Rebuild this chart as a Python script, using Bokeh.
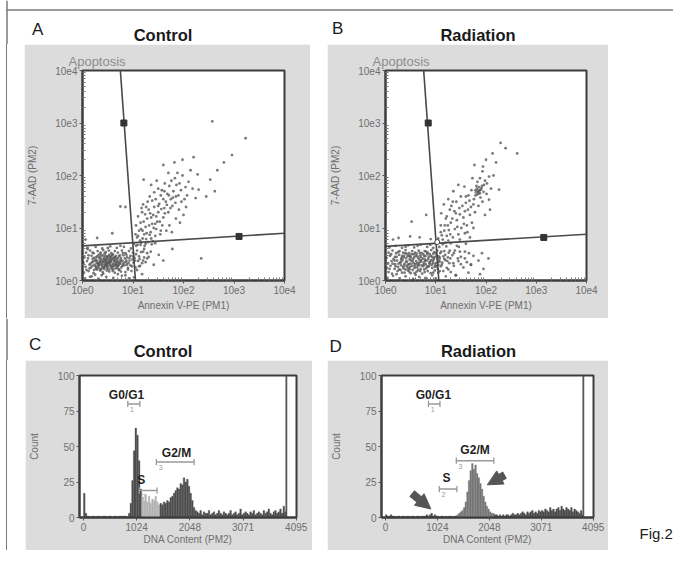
from bokeh.plotting import figure
from bokeh.layouts import column, row
from bokeh.models import (Range1d, FixedTicker, CustomJSTickFormatter, Arrow,
                          NormalHead, ColumnDataSource, Spacer)
from bokeh.core.properties import value
from bokeh.embed import file_html
from bokeh.resources import INLINE

FONT = "Liberation Sans"
GRAY = "#dcdcdc"
FRAME = "#3c3c3c"
TXT = "#6e6e6e"
RULE = "#7a7a7a"

# ---------------- DATA ----------------
# Scatter events, stored as (log10 Annexin V-PE, log10 7-AAD)
a_events = [
    (0.05,0.04),(0.18,0.08),(0.32,0.03),(0.47,0.07),(0.61,0.05),(0.78,0.09),(0.92,0.04),(1.02,0.06),(0.25,0.11),(0.70,0.12),
    (0.03,0.15),(0.12,0.18),(0.22,0.14),(0.35,0.19),(0.41,0.13),(0.53,0.17),(0.64,0.15),(0.72,0.20),(0.85,0.16),(0.97,0.18),(0.29,0.21),(0.58,0.22),(1.08,0.20),
    (0.06,0.26),(0.14,0.23),(0.20,0.28),(0.27,0.25),(0.33,0.29),(0.38,0.23),(0.44,0.27),(0.49,0.24),(0.55,0.29),(0.60,0.26),(0.66,0.23),(0.71,0.28),(0.77,0.25),(0.83,0.29),(0.90,0.24),(0.98,0.27),(1.05,0.25),(0.24,0.30),(0.46,0.31),(0.68,0.31),
    (0.02,0.34),(0.09,0.37),(0.16,0.32),(0.21,0.36),(0.26,0.39),(0.31,0.33),(0.35,0.37),(0.39,0.31),(0.42,0.35),(0.45,0.39),(0.48,0.33),(0.51,0.37),(0.54,0.32),(0.57,0.36),(0.62,0.39),(0.65,0.34),(0.69,0.37),(0.74,0.33),(0.79,0.38),(0.86,0.35),(0.93,0.38),(1.01,0.34),(1.10,0.37),(1.18,0.33),(0.37,0.40),(0.58,0.41),(0.28,0.34),(0.44,0.30),
    (0.04,0.44),(0.11,0.42),(0.18,0.47),(0.23,0.43),(0.29,0.46),(0.34,0.42),(0.40,0.48),(0.43,0.44),(0.47,0.41),(0.50,0.46),(0.55,0.43),(0.59,0.48),(0.63,0.44),(0.67,0.41),(0.72,0.46),(0.76,0.43),(0.81,0.48),(0.88,0.44),(0.95,0.47),(1.03,0.43),(1.12,0.46),(1.22,0.44),(0.32,0.49),(0.53,0.49),
    (0.07,0.53),(0.15,0.57),(0.22,0.52),(0.30,0.56),(0.36,0.53),(0.41,0.58),(0.46,0.54),(0.52,0.57),(0.57,0.52),(0.64,0.56),(0.70,0.53),(0.78,0.57),(0.85,0.52),(0.92,0.56),(1.00,0.53),(1.08,0.57),(1.16,0.54),(1.28,0.52),
    (0.10,0.62),(0.26,0.64),(0.39,0.61),(0.55,0.65),(0.68,0.62),(0.82,0.64),(0.96,0.61),(1.06,0.66),(1.15,0.68),(1.25,0.70),
    (0.27,0.22),(0.31,0.27),(0.36,0.21),(0.40,0.26),(0.43,0.22),(0.47,0.28),(0.52,0.21),(0.56,0.25),(0.61,0.21),(0.64,0.28),(0.69,0.24),(0.73,0.21),(0.30,0.31),(0.34,0.35),(0.38,0.29),(0.41,0.38),(0.46,0.35),(0.49,0.30),(0.53,0.35),(0.56,0.39),
    (0.60,0.32),(0.63,0.37),(0.67,0.30),(0.71,0.35),(0.75,0.39),(0.33,0.44),(0.37,0.46),(0.42,0.41),(0.48,0.45),(0.52,0.40),(0.57,0.45),(0.61,0.42),(0.66,0.47),(0.70,0.42),(0.25,0.38),(0.20,0.41),(0.80,0.31),(0.84,0.42),(0.88,0.30),(0.45,0.48),
    (0.08,0.20),(0.14,0.30),(0.19,0.35),(0.17,0.25),(0.23,0.20),(0.26,0.27),(0.32,0.24),(0.29,0.38),(0.34,0.32),(0.39,0.35),(0.43,0.25),(0.46,0.38),(0.50,0.27),(0.51,0.33),(0.55,0.36),(0.58,0.28),(0.62,0.30),(0.66,0.36),(0.69,0.27),(0.73,0.31),
    (0.76,0.36),(0.79,0.28),(0.82,0.34),(0.87,0.38),(0.91,0.33),(0.95,0.29),(0.99,0.40),(1.04,0.38),(1.13,0.41),(1.20,0.38),(0.12,0.48),(0.20,0.53),(0.27,0.44),(0.35,0.50),(0.44,0.52),(0.49,0.43),(0.54,0.46),(0.60,0.50),(0.65,0.44),(0.74,0.48),
    (0.80,0.52),(0.87,0.49),(0.93,0.43),(1.00,0.46),(1.06,0.50),(0.40,0.16),(0.48,0.19),(0.60,0.18),(0.76,0.17),(0.90,0.21),(1.14,0.28),(1.25,0.35),(1.31,0.45),(1.20,0.55),(0.15,0.07),(0.38,0.10),(0.85,0.10),(0.10,0.60),(0.50,0.62),(0.75,0.66),
    (1.08,0.82),(1.12,0.95),(1.15,1.10),(1.10,1.22),(1.18,1.30),(1.22,0.88),(1.25,1.02),(1.28,1.18),(1.31,1.35),(1.20,1.45),(1.35,0.92),(1.38,1.08),(1.40,1.25),(1.42,1.40),(1.45,1.55),(1.33,1.60),(1.48,1.12),(1.50,1.30),(1.52,1.46),(1.55,1.62),
    (1.14,0.76),(1.26,0.79),(1.36,0.80),(1.44,0.85),(1.17,1.38),(1.29,1.50),(1.38,1.52),(1.06,1.05),(1.24,1.26),(1.46,0.98),(1.58,1.05),(1.60,1.20),(1.62,1.38),(1.65,1.50),(1.57,1.72),(1.68,1.65),(1.70,1.30),(1.72,1.80),(1.75,1.55),(1.78,1.42),
    (1.63,1.85),(1.80,1.70),(1.83,1.95),(1.85,1.60),(1.88,2.05),(1.92,1.85),(1.95,1.72),(1.98,2.00),(2.02,1.55),(2.07,1.62),(2.10,1.88),(2.14,2.10),(2.18,1.75),(2.24,1.57),(2.30,1.73),(2.28,2.02),(1.60,2.20),(1.91,1.35),(2.00,1.25),(1.85,1.18),
    (1.72,1.05),(1.66,0.95),(1.54,0.88),(1.77,0.92),(1.93,1.10),(2.05,1.40),(1.50,1.75),(1.42,1.68),(1.36,1.82),(1.47,1.90),(1.70,2.05),(1.82,2.25),(1.98,2.30),(2.20,2.35),
    (1.10,0.85),(1.16,0.98),(1.21,1.12),(1.27,0.90),(1.32,1.05),(1.36,1.20),(1.41,1.00),(1.46,1.22),(1.50,1.42),(1.53,1.12),(1.56,1.36),(1.60,1.55),(1.63,1.28),(1.67,1.44),(1.71,1.62),(1.74,1.38),(1.79,1.58),(1.84,1.48),(1.90,1.62),(1.96,1.50),
    (1.26,1.40),(1.34,1.28),(1.44,1.08),(1.19,0.80),(1.39,0.75),(1.55,0.95),(1.62,1.70),(1.76,1.90),(1.86,1.82),(2.04,1.78),
    (1.02,0.70),(1.09,0.68),(1.16,0.72),(1.23,0.66),(1.30,0.73),(1.37,0.69),(1.44,0.71),(1.05,0.88),(1.19,0.95),(1.33,0.87),
    (2.53,1.92),(2.67,2.10),(2.80,2.25),(2.96,2.39),(3.23,2.71),(2.57,3.03),(2.45,1.60),(2.62,1.70),
    (0.75,1.41),(0.85,1.40),(0.59,0.90),(0.29,0.81),(0.06,0.78),(1.21,1.92),
    (1.78,0.60),(1.51,0.49),(1.41,0.30),(1.12,0.27),(1.28,0.42),(1.35,0.55),(1.22,0.60),(1.60,0.38),(1.18,0.12),(2.35,0.42),
]

b_events = [
    (0.04,0.05),(0.15,0.09),(0.28,0.04),(0.40,0.08),(0.55,0.03),(0.67,0.07),(0.80,0.05),(0.93,0.10),(1.00,0.04),(0.22,0.12),(0.60,0.11),(1.20,0.08),(1.40,0.10),
    (0.06,0.16),(0.13,0.13),(0.24,0.18),(0.33,0.15),(0.45,0.19),(0.50,0.14),(0.62,0.17),(0.73,0.13),(0.84,0.18),(0.90,0.14),(0.98,0.19),(1.05,0.15),(1.15,0.18),(1.30,0.16),
    (0.03,0.24),(0.10,0.28),(0.18,0.22),(0.25,0.26),(0.31,0.29),(0.36,0.23),(0.42,0.27),(0.48,0.22),(0.53,0.28),(0.58,0.24),(0.64,0.29),(0.70,0.22),(0.75,0.27),(0.81,0.23),(0.87,0.28),(0.93,0.24),(0.99,0.29),(1.04,0.22),(1.10,0.27),(1.22,0.24),(1.36,0.28),(1.55,0.25),(1.70,0.30),
    (0.05,0.33),(0.12,0.37),(0.19,0.31),(0.23,0.38),(0.29,0.34),(0.34,0.39),(0.38,0.32),(0.43,0.36),(0.47,0.31),(0.51,0.38),(0.56,0.33),(0.61,0.37),(0.66,0.32),(0.71,0.39),(0.76,0.34),(0.82,0.38),(0.88,0.32),(0.94,0.37),(1.00,0.33),(1.06,0.38),(1.13,0.34),(1.19,0.39),(1.27,0.33),(1.45,0.37),(1.62,0.35),(1.85,0.38),
    (0.02,0.43),(0.09,0.47),(0.16,0.41),(0.22,0.45),(0.27,0.49),(0.32,0.43),(0.37,0.47),(0.41,0.42),(0.46,0.48),(0.50,0.44),(0.55,0.41),(0.60,0.47),(0.65,0.43),(0.69,0.48),(0.74,0.42),(0.79,0.46),(0.85,0.41),(0.90,0.47),(0.96,0.43),(1.02,0.48),(1.08,0.42),(1.15,0.46),(1.24,0.44),(1.33,0.48),(1.50,0.45),(1.75,0.47),
    (0.06,0.53),(0.14,0.57),(0.21,0.52),(0.28,0.56),(0.35,0.53),(0.40,0.58),(0.47,0.52),(0.53,0.56),(0.59,0.53),(0.66,0.57),(0.72,0.52),(0.78,0.56),(0.84,0.53),(0.91,0.58),(0.97,0.54),(1.03,0.57),(1.09,0.52),(1.17,0.56),(1.26,0.53),(1.38,0.57),(1.58,0.55),(1.92,0.52),
    (0.08,0.63),(0.20,0.66),(0.33,0.62),(0.45,0.67),(0.57,0.63),(0.70,0.68),(0.83,0.64),(0.95,0.62),(1.01,0.70),(1.07,0.64),(1.14,0.69),(1.21,0.65),(1.30,0.71),(1.42,0.66),(1.60,0.70),(1.25,0.76),
    (0.30,0.20),(0.35,0.26),(0.40,0.21),(0.44,0.30),(0.49,0.26),(0.54,0.20),(0.59,0.31),(0.63,0.25),(0.68,0.35),(0.72,0.29),(0.77,0.21),(0.80,0.31),(0.85,0.26),(0.89,0.36),(0.92,0.30),(0.96,0.40),(1.01,0.27),(1.04,0.35),(1.07,0.45),(0.86,0.45),
    (0.83,0.50),(0.78,0.40),(0.75,0.50),(0.67,0.40),(0.62,0.51),(0.57,0.44),(0.52,0.50),(0.48,0.40),(0.44,0.46),(0.39,0.52),(0.36,0.44),(0.31,0.40),(0.26,0.32),(0.95,0.51),(0.99,0.45),(1.05,0.30),(0.70,0.45),(0.65,0.20),
    (0.08,0.22),(0.14,0.32),(0.18,0.38),(0.20,0.27),(0.27,0.21),(0.31,0.35),(0.37,0.29),(0.41,0.36),(0.45,0.24),(0.50,0.32),(0.54,0.37),(0.58,0.27),(0.63,0.33),(0.67,0.29),(0.71,0.36),(0.76,0.30),(0.79,0.37),(0.83,0.27),(0.87,0.34),(0.91,0.39),
    (0.95,0.33),(0.98,0.26),(1.03,0.41),(1.08,0.36),(1.12,0.30),(1.17,0.41),(1.23,0.37),(1.29,0.42),(1.35,0.33),(1.44,0.42),(0.11,0.50),(0.19,0.45),(0.25,0.54),(0.33,0.47),(0.42,0.51),(0.49,0.46),(0.56,0.50),(0.63,0.46),(0.68,0.53),(0.77,0.47),
    (0.81,0.55),(0.88,0.50),(0.93,0.45),(1.00,0.52),(1.05,0.46),(1.11,0.55),(1.19,0.49),(1.28,0.57),(1.36,0.52),(1.48,0.55),(0.38,0.15),(0.47,0.17),(0.58,0.14),(0.69,0.18),(0.78,0.16),(0.95,0.15),(1.08,0.18),(1.25,0.21),(1.50,0.31),(1.58,0.42),
    (1.66,0.52),(1.46,0.64),(0.40,0.64),(0.64,0.66),(0.89,0.68),(1.19,0.72),
    (1.05,0.80),(1.10,0.92),(1.14,0.78),(1.18,1.05),(1.22,0.85),(1.26,0.96),(1.30,1.10),(1.11,1.28),(1.20,1.18),(1.34,0.82),(1.38,0.98),(1.42,1.15),(1.34,1.50),(1.47,1.38),(1.51,1.00),(1.45,0.88),(1.55,1.20),(1.58,1.32),(1.62,1.05),(1.28,1.35),
    (1.40,1.28),(1.50,1.60),(1.57,1.79),(1.60,1.48),(1.65,1.62),(1.68,1.25),(1.73,1.95),(1.70,1.40),(1.76,1.55),(1.80,1.68),(1.82,1.75),(1.84,1.70),(1.86,1.78),(1.88,1.66),(1.90,1.73),(1.87,1.72),(1.83,1.64),(1.92,1.80),(1.95,1.69),(1.81,1.80),
    (1.93,1.50),(2.06,1.54),(2.26,1.73),(1.93,2.08),(2.06,1.98),(1.98,1.90),(2.02,1.85),(2.10,1.75),(2.15,2.00),(1.77,2.20),(1.94,2.17),(2.13,2.42),(2.29,2.62),(2.39,2.52),(2.62,2.42),(1.72,1.10),(1.78,1.30),(1.85,1.42),(1.63,0.92),(1.48,0.78),
    (1.68,0.82),(1.98,1.25),(2.08,1.35),(1.35,1.70),(1.45,1.82),(1.25,1.55),(1.16,1.45),(2.00,2.30),(2.20,2.25),(1.88,1.95),
    (1.12,0.86),(1.17,0.95),(1.24,1.05),(1.29,0.88),(1.33,1.18),(1.37,1.32),(1.43,1.02),(1.48,1.26),(1.53,1.42),(1.56,1.08),(1.60,1.60),(1.64,1.35),(1.67,1.52),(1.71,1.72),(1.75,1.45),(1.79,1.62),(1.83,1.88),(1.89,1.58),(1.96,1.82),(2.01,1.65),
    (1.79,1.72),(1.85,1.66),(1.91,1.76),(1.86,1.70),(1.22,1.22),(1.31,1.42),(1.41,1.50),(1.10,1.05),(1.58,0.90),(1.75,1.00),
    (0.81,1.25),(0.52,1.12),(0.26,0.81),(0.49,0.84),(0.68,0.82),(0.15,0.78),(0.90,0.79),
    (1.70,0.30),(1.40,0.10),(1.65,0.15),(1.95,0.22),(2.05,0.42),(1.88,0.12),
]

# Quadrant gates (intensity units): vertical, horizontal, handle points
a_gate_v = ([5.62, 11.2], [10000, 1])
a_gate_h = ([1, 10000], [4.57, 7.94])
a_handles = ([6.6, 1259], [1000, 6.9])
b_gate_v = ([5.75, 11.5], [10000, 1])
b_gate_h = ([1, 10000], [4.47, 7.59])
b_handles = ([7.08, 1413], [1000, 6.61])
b_cross = ([10.7], [5.4])

log_ticks = [1, 10, 100, 1000, 10000]

# DNA content histograms, bin width 32 channels (128 bins, 0-4095)
BIN = 32
c_counts = [
    17, 3, 1, 1, 0, 1, 1, 0,
    1, 1, 0, 1, 1, 1, 0, 1,
    1, 0, 1, 1, 0, 1, 1, 1,
    1, 1, 0, 3, 10, 26, 47, 63,
    58, 40, 20, 14, 12, 16, 11, 15,
    10, 13, 12, 15, 11, 9, 10, 9,
    11, 10, 12, 11, 14, 15, 17, 19,
    21, 20, 24, 23, 28, 25, 27, 22,
    17, 12, 7, 5, 4, 3, 5, 2,
    4, 3, 3, 5, 2, 3, 4, 2,
    3, 5, 3, 2, 4, 3, 2, 3,
    5, 2, 3, 4, 2, 3, 6, 2,
    3, 4, 3, 2, 4, 3, 5, 2,
    3, 4, 3, 2, 5, 3, 4, 6,
    3, 2, 4, 5, 3, 4, 6, 3,
    8, 4, 0, 0, 0, 0, 0, 0,
]
d_counts = [
    2, 1, 1, 2, 1, 1, 0, 1,
    1, 0, 1, 1, 0, 1, 1, 0,
    1, 1, 0, 1, 1, 0, 1, 1,
    1, 2, 1, 2, 3, 1, 2, 1,
    1, 0, 1, 1, 0, 1, 0, 1,
    1, 0, 1, 1, 2, 3, 4, 5,
    7, 11, 18, 26, 33, 38, 34, 37,
    31, 28, 24, 20, 15, 11, 8, 6,
    4, 3, 3, 2, 2, 1, 2, 1,
    2, 1, 2, 2, 1, 2, 3, 2,
    2, 3, 2, 3, 4, 3, 2, 4,
    3, 4, 5, 3, 4, 3, 5, 4,
    5, 4, 6, 5, 4, 7, 5, 6,
    4, 6, 7, 5, 8, 6, 5, 7,
    6, 5, 7, 4, 6, 5, 4, 3,
    5, 2, 0, 0, 0, 0, 0, 0,
]
c_light_bins = range(35, 46)      # S-phase fill
d_peak_bins = range(44, 67)       # G2/M peak fill

dna_ticks = [0, 1024, 2048, 3071, 4095]
count_ticks = [0, 25, 50, 75, 100]

# Region markers: label, start, end, level ; name anchors (centre)
c_regions = dict(num=["1", "2", "3"], start=[853, 1075, 1403], end=[1086, 1416, 2129], level=[80, 19, 39])
c_names = dict(name=["G0/G1", "S", "G2/M"], x=[828, 1113, 1791], y=[86.5, 26.5, 45.5])
d_regions = dict(num=["1", "2", "3"], start=[849, 1062, 1397], end=[1075, 1409, 2137], level=[80, 20, 40])
d_names = dict(name=["G0/G1", "S", "G2/M"], x=[946, 1205, 1766], y=[86.5, 27.5, 47.5])
c_limit = 3905
d_limit = 3900
d_arrows = dict(x0=[521, 2355], y0=[17, 30], x1=[895, 2008], y1=[6, 23])


# ---------------- HELPERS ----------------
def canvas(w, h, left_line=True):
    c = figure(width=w, height=h, x_range=Range1d(0, w), y_range=Range1d(h, 0),
               min_border=0, toolbar_location=None, output_backend="svg", title=None,
               x_axis_location=None, y_axis_location=None,
               background_fill_color="white", border_fill_color="white")
    c.grid.visible = False
    c.outline_line_color = None
    if left_line:
        c.line([6.5, 6.5], [0, h], line_color=RULE, line_width=1.5)
    return c


def rule_spacer(w, h):
    # blank strip carrying the figure's left frame rule (pure CSS, no plot)
    return Spacer(width=w, height=h, styles={
        "background": "linear-gradient(to right, transparent 5.75px, #7a7a7a 5.75px, "
                      "#7a7a7a 7.25px, transparent 7.25px)"})


def label(c, x, y, t, size, bold=False, align="left", color="#1a1a1a"):
    c.text(x=[x], y=[y], text=[t], text_font=value(FONT), text_font_size=size,
           text_font_style="bold" if bold else "normal", text_align=align,
           text_baseline="middle", text_color=color)


def style_axes(p):
    for ax in p.axis:
        ax.axis_line_color = FRAME
        ax.axis_line_width = 2
        ax.major_tick_line_color = "#555555"
        ax.minor_tick_line_color = "#777777"
        ax.major_tick_in = 0
        ax.major_tick_out = 3
        ax.minor_tick_in = 0
        ax.minor_tick_out = 0
        ax.major_label_text_font = FONT
        ax.major_label_text_font_size = "10px"
        ax.major_label_text_color = TXT
        ax.major_label_standoff = 2
        ax.axis_label_text_font = FONT
        ax.axis_label_text_font_size = "10px"
        ax.axis_label_text_font_style = "normal"
        ax.axis_label_text_color = TXT
    p.grid.visible = False
    p.outline_line_color = FRAME
    p.outline_line_width = 2


minor_log = [m * 10 ** k for k in range(4) for m in range(2, 10)]


def scatter_panel(width, left, right, events, gate_v, gate_h, handles, apop_offset, cross=None):
    p = figure(width=width, height=274, x_axis_type="log", y_axis_type="log",
               x_range=Range1d(1, 10000), y_range=Range1d(1, 10000),
               min_border_left=left, min_border_right=right, min_border_top=26, min_border_bottom=38,
               toolbar_location=None, output_backend="svg", title="Apoptosis",
               background_fill_color="white", border_fill_color=GRAY)
    p.title.align = "left"
    p.title.offset = apop_offset
    p.title.text_font = FONT
    p.title.text_font_size = "13px"
    p.title.text_font_style = "normal"
    p.title.text_color = "#8c8c8c"
    p.title.standoff = 3
    style_axes(p)
    for ax in p.axis:
        ax.ticker = FixedTicker(ticks=log_ticks, minor_ticks=minor_log)
        ax.formatter = CustomJSTickFormatter(code="return '10e' + Math.round(Math.log10(tick));")
        ax.minor_tick_in = 3
    p.xaxis.axis_label = "Annexin V-PE (PM1)"
    p.xaxis.axis_label_standoff = 3
    p.yaxis.axis_label = "7-AAD (PM2)"
    p.yaxis.axis_label_standoff = 14
    xs = [10 ** e[0] for e in events]
    ys = [10 ** e[1] for e in events]
    p.scatter(xs, ys, marker="circle", size=2.8, fill_color="#595959", line_color=None, fill_alpha=0.8)
    p.line(gate_v[0], gate_v[1], line_color="#4a4a4a", line_width=1.6)
    p.line(gate_h[0], gate_h[1], line_color="#4a4a4a", line_width=1.6)
    p.scatter(handles[0], handles[1], marker="square", size=6, fill_color="#333333", line_color="#333333")
    if cross is not None:
        p.scatter(cross[0], cross[1], marker="circle", size=5, fill_color="white", line_color="#444444", line_width=1)
    return p


def hist_panel(width, height, left, right, top, bottom, xmin, counts, fills, regions, names, limit, arrows=None):
    p = figure(width=width, height=height, x_range=Range1d(xmin, 4100), y_range=Range1d(0, 100),
               min_border_left=left, min_border_right=right, min_border_top=top, min_border_bottom=bottom,
               toolbar_location=None, output_backend="svg", title=None,
               background_fill_color="white", border_fill_color=GRAY)
    style_axes(p)
    p.xaxis.ticker = FixedTicker(ticks=dna_ticks)
    p.yaxis.ticker = FixedTicker(ticks=count_ticks)
    p.xaxis.axis_label = "DNA Content (PM2)"
    p.xaxis.axis_label_standoff = 0
    p.yaxis.axis_label = "Count"
    p.yaxis.axis_label_standoff = 15
    src = ColumnDataSource(dict(x=[BIN * i + BIN / 2 for i in range(len(counts))], top=counts, color=fills))
    p.vbar(x="x", top="top", width=BIN, fill_color="color", line_color="color", line_width=0.3, source=src)
    p.segment(x0=[limit], y0=[0], x1=[limit], y1=[100], line_color="#555555", line_width=1.8)
    r = regions
    p.segment(x0=r["start"], y0=r["level"], x1=r["end"], y1=r["level"], line_color="#9a9a9a", line_width=1.5)
    p.segment(x0=r["start"], y0=[v - 2.2 for v in r["level"]], x1=r["start"], y1=[v + 2.2 for v in r["level"]],
              line_color="#9a9a9a", line_width=1.3)
    p.segment(x0=r["end"], y0=[v - 2.2 for v in r["level"]], x1=r["end"], y1=[v + 2.2 for v in r["level"]],
              line_color="#9a9a9a", line_width=1.3)
    p.text(x=[s + 45 for s in r["start"]], y=[v - 4 for v in r["level"]], text=r["num"],
           text_font=value(FONT), text_font_size="7px", text_color="#999999",
           text_align="left", text_baseline="middle")
    p.text(x=names["x"], y=names["y"], text=names["name"], text_font=value(FONT), text_font_size="12px",
           text_font_style="bold", text_color="#1f1f1f", text_align="center", text_baseline="middle")
    if arrows is not None:
        asrc = ColumnDataSource(arrows)
        p.add_layout(Arrow(end=NormalHead(size=15, fill_color="#555555", line_color="#555555"),
                           x_start="x0", y_start="y0", x_end="x1", y_end="y1", source=asrc,
                           line_width=8, line_color="#555555"))
    return p


# ---------------- BUILD ----------------
header1 = canvas(673, 44)
header1.line([6, 673], [9.5, 9.5], line_color=RULE, line_width=1.5)
label(header1, 31.5, 28.5, "A", "17px")
label(header1, 162.5, 34.5, "Control", "16.5px", bold=True, align="center")
label(header1, 331.5, 27.5, "B", "17px")
label(header1, 477.5, 34, "Radiation", "16.5px", bold=True, align="center")

pA = scatter_panel(286, 58, 26, a_events, a_gate_v, a_gate_h, a_handles, -14)
pB = scatter_panel(281, 56, 22, b_events, b_gate_v, b_gate_h, b_handles, -13, cross=b_cross)

header2 = canvas(673, 42)
label(header2, 28.5, 26, "C", "17px")
label(header2, 162.5, 32.5, "Control", "16.5px", bold=True, align="center")
label(header2, 329, 28, "D", "17px")
label(header2, 478, 32.5, "Radiation", "16.5px", bold=True, align="center")

c_fills = ["#b4b4b4" if i in c_light_bins else "#4e4e4e" for i in range(len(c_counts))]
d_fills = ["#777777" if i in d_peak_bins else "#4b4b4b" for i in range(len(d_counts))]

ROW2 = 190
pC = hist_panel(287, ROW2, 52, 16, 15, 30, -76, c_counts, c_fills, c_regions, c_names, c_limit)
pD = hist_panel(281, ROW2, 50, 15, 12, 33, -77, d_counts, d_fills, d_regions, d_names, d_limit, arrows=d_arrows)

fig_note = canvas(65, 30, left_line=False)
label(fig_note, 31, 15, "Fig.2", "15px", color="#222222")
right2 = column(Spacer(width=65, height=158), fig_note, Spacer(width=65, height=ROW2 - 188))

layout = column(
    header1,
    row(rule_spacer(24, 274), pA, Spacer(width=17, height=274), pB, Spacer(width=65, height=274)),
    header2,
    row(rule_spacer(25, ROW2), pC, Spacer(width=15, height=ROW2), pD, right2),
)

open("out.html", "w").write(file_html(layout, INLINE))
